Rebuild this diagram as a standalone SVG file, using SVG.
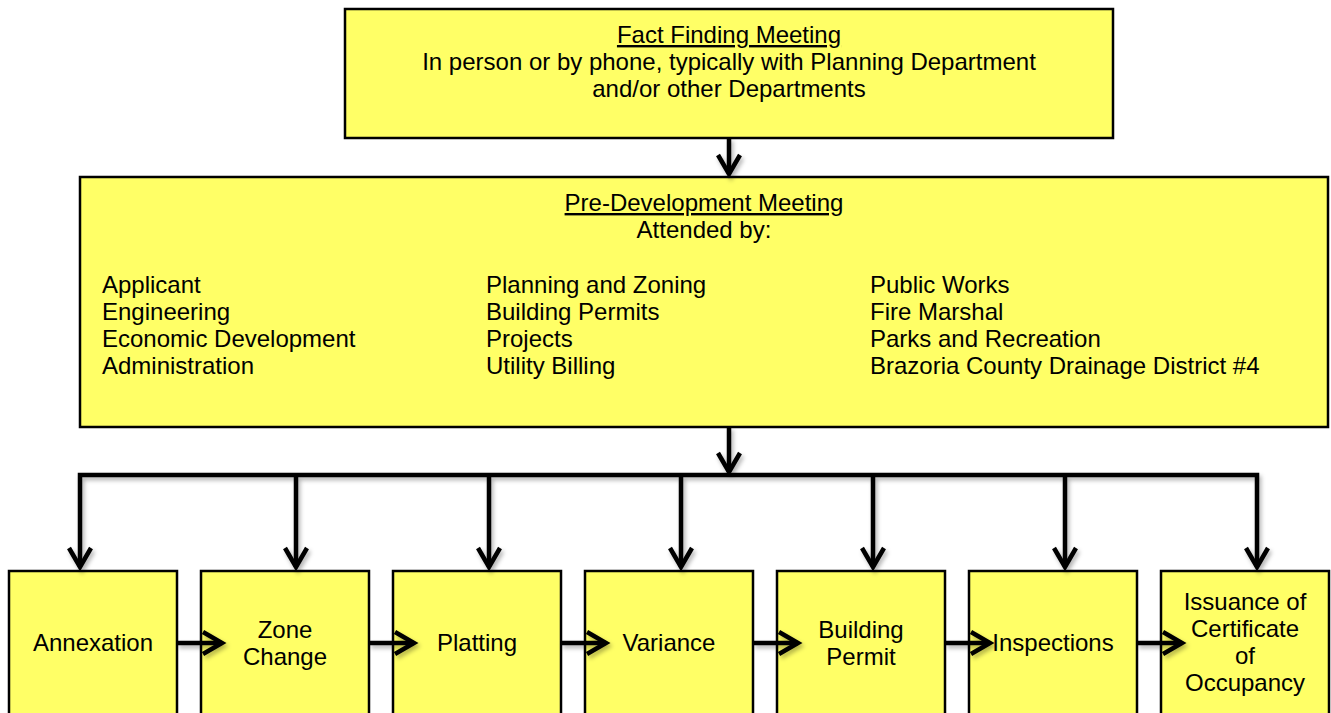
<svg xmlns="http://www.w3.org/2000/svg" width="1331" height="713" viewBox="0 0 1331 713">
  <style>
    .box { fill: #ffff66; stroke: #000; stroke-width: 2.5; }
    .lbl { font-family: "Liberation Sans", Arial, sans-serif; font-size: 24px; fill: #000; }
    .c { text-anchor: middle; }
    .u { text-decoration: underline; }
    .wire { fill: none; stroke: #000; stroke-width: 4.5; stroke-linejoin: miter; }
    .head { fill: none; stroke: #000; stroke-width: 4.5; stroke-linecap: butt; stroke-linejoin: miter; }
  </style>
  <defs>
    <filter id="shadow" x="-10%" y="-10%" width="120%" height="130%">
      <feDropShadow dx="2" dy="3" stdDeviation="2" flood-color="#000" flood-opacity="0.3"/>
    </filter>
  </defs>
  <rect width="1331" height="713" fill="#fff"/>

  <g id="fact-finding">
    <rect class="box" x="345" y="9" width="768" height="129"/>
    <text class="lbl c u" x="729" y="43">Fact Finding Meeting</text>
    <text class="lbl c" x="729" y="70">In person or by phone, typically with Planning Department</text>
    <text class="lbl c" x="729" y="97">and/or other Departments</text>
  </g>

  <g id="pre-development">
    <rect class="box" x="80" y="177" width="1248" height="250"/>
    <text class="lbl c u" x="704" y="211">Pre-Development Meeting</text>
    <text class="lbl c" x="704" y="238">Attended by:</text>
    <text class="lbl" x="102" y="293">Applicant</text>
    <text class="lbl" x="102" y="320">Engineering</text>
    <text class="lbl" x="102" y="347">Economic Development</text>
    <text class="lbl" x="102" y="374">Administration</text>
    <text class="lbl" x="486" y="293">Planning and Zoning</text>
    <text class="lbl" x="486" y="320">Building Permits</text>
    <text class="lbl" x="486" y="347">Projects</text>
    <text class="lbl" x="486" y="374">Utility Billing</text>
    <text class="lbl" x="870" y="293">Public Works</text>
    <text class="lbl" x="870" y="320">Fire Marshal</text>
    <text class="lbl" x="870" y="347">Parks and Recreation</text>
    <text class="lbl" x="870" y="374">Brazoria County Drainage District #4</text>
  </g>

  <g id="annexation">
    <rect class="box" x="9" y="571" width="168" height="160"/>
    <text class="lbl c" x="93" y="651">Annexation</text>
  </g>
  <g id="zone-change">
    <rect class="box" x="201" y="571" width="168" height="160"/>
    <text class="lbl c" x="285" y="638">Zone</text>
    <text class="lbl c" x="285" y="665">Change</text>
  </g>
  <g id="platting">
    <rect class="box" x="393" y="571" width="168" height="160"/>
    <text class="lbl c" x="477" y="651">Platting</text>
  </g>
  <g id="variance">
    <rect class="box" x="585" y="571" width="168" height="160"/>
    <text class="lbl c" x="669" y="651">Variance</text>
  </g>
  <g id="building-permit">
    <rect class="box" x="777" y="571" width="168" height="160"/>
    <text class="lbl c" x="861" y="638">Building</text>
    <text class="lbl c" x="861" y="665">Permit</text>
  </g>
  <g id="inspections">
    <rect class="box" x="969" y="571" width="168" height="160"/>
    <text class="lbl c" x="1053" y="651">Inspections</text>
  </g>
  <g id="certificate">
    <rect class="box" x="1161" y="571" width="168" height="160"/>
    <text class="lbl c" x="1245" y="610">Issuance of</text>
    <text class="lbl c" x="1245" y="637">Certificate</text>
    <text class="lbl c" x="1245" y="664">of</text>
    <text class="lbl c" x="1245" y="691">Occupancy</text>
  </g>

  <g id="connectors" filter="url(#shadow)">
    <!-- fact finding to pre-development -->
    <path class="wire" d="M729,138 V174"/>
    <path class="head" d="M718,155 L729,174 L740,155"/>
    <!-- pre-development down to the distribution bus -->
    <path class="wire" d="M729,427 V472"/>
    <path class="head" d="M718,453 L729,472 L740,453"/>
    <!-- distribution bus -->
    <path class="wire" d="M80,567 V475 H1257 V567"/>
    <path class="wire" d="M296,475 V567 M489,475 V567 M681,475 V567 M873,475 V567 M1065,475 V567"/>
    <g class="head">
      <path d="M69,548 L80,567 L91,548"/>
      <path d="M285,548 L296,567 L307,548"/>
      <path d="M478,548 L489,567 L500,548"/>
      <path d="M670,548 L681,567 L692,548"/>
      <path d="M862,548 L873,567 L884,548"/>
      <path d="M1054,548 L1065,567 L1076,548"/>
      <path d="M1246,548 L1257,567 L1268,548"/>
    </g>
    <!-- sequence between step boxes -->
    <path class="wire" d="M177,643 H222 M369,643 H414 M561,643 H606 M753,643 H798 M945,643 H990 M1137,643 H1182"/>
    <g class="head">
      <path d="M203,632 L222,643 L203,654"/>
      <path d="M395,632 L414,643 L395,654"/>
      <path d="M587,632 L606,643 L587,654"/>
      <path d="M779,632 L798,643 L779,654"/>
      <path d="M971,632 L990,643 L971,654"/>
      <path d="M1163,632 L1182,643 L1163,654"/>
    </g>
  </g>
</svg>
